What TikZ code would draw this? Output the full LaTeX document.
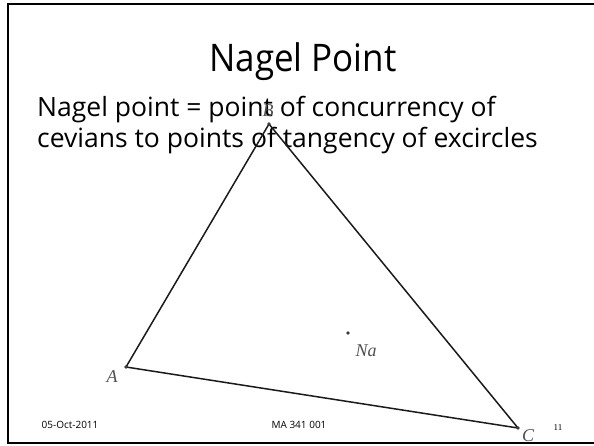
\documentclass[tikz,border=0pt]{standalone}
\usepackage{fontspec}
\setmainfont{Open Sans}
\newfontfamily\labelfont{Liberation Serif}
\usetikzlibrary{positioning}
\definecolor{ink}{HTML}{1A1A1A}
\definecolor{lbl}{HTML}{505050}
\tikzset{
  vdot/.style={circle,fill=ink!85,inner sep=0pt,minimum size=3.6pt},
  vlabel/.style={text=lbl,font=\labelfont\itshape\fontsize{18}{18}\selectfont,inner sep=0pt},
  side/.style={line width=1.5pt,color=ink,line join=round},
  body/.style={font=\fontsize{26.5}{30}\selectfont,anchor=base west,inner sep=0pt},
  foot/.style={font=\fontsize{10}{12}\selectfont,anchor=base,inner sep=0pt},
}

\begin{document}
\begin{tikzpicture}[x=1pt,y=-1pt]
  \useasboundingbox (0,0) rectangle (594,445);
  \draw[line width=2pt] (8,4) rectangle (610,443);

  \node[font=\fontsize{38}{38}\selectfont,anchor=base,inner sep=0pt,xscale=0.92] (title) at (303,71) {Nagel Point};
  \node[body] (line1) at (37,116) {Nagel point = point of concurrency of};
  \node[body] (line2) at (37,147) {cevians to points of tangency of excircles};

  \coordinate (A) at (126,367);
  \coordinate (B) at (269,124);
  \coordinate (C) at (518,428);
  \draw[side] (A) -- (B) -- (C) -- cycle;

  \node[vdot] (Adot) at (A) {};
  \node[vdot] (Bdot) at (B) {};
  \node[vdot] (Cdot) at (C) {};
  \node[vdot] (Na) at (348,333) {};
  \node[vlabel] (Alab) at (112,377) {A};
  \node[vlabel] (Blab) at (268,111) {B};
  \node[vlabel] (Clab) at (528,436) {C};
  \node[vlabel] (Nalab) at (366,351) {Na};

  \node[foot] (date) at (70,428) {05-Oct-2011};
  \node[foot] (course) at (299,428) {MA 341 001};
  \node[foot,font=\labelfont\fontsize{9}{11}\selectfont] (page) at (558,430) {11};
\end{tikzpicture}
\end{document}
